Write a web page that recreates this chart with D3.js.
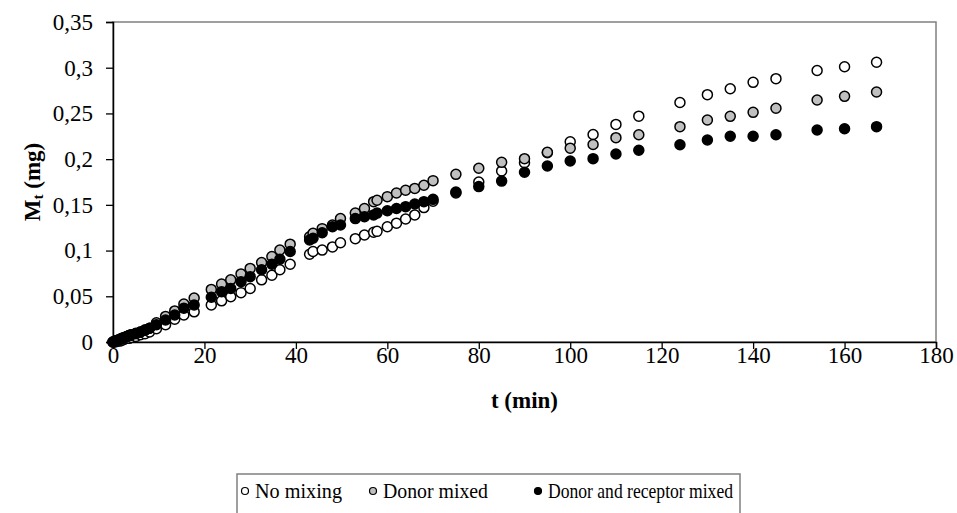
<!DOCTYPE html>
<html>
<head>
<meta charset="utf-8">
<title>Mt vs t</title>
<script src="https://d3js.org/d3.v7.min.js"></script>
<style>
  body { margin: 0; background: #fff; }
  .axis path, .axis line { stroke: #000; }
</style>
</head>
<body>
<svg width="957" height="513"></svg>
<script>
var width = 957, height = 513;
var margin = {top: 22, right: 21, bottom: 171, left: 113};
var serif = "'Liberation Serif', 'DejaVu Serif', serif";

// time points (min)
var times = [0, 0.5, 1, 1.5, 2, 2.5, 3, 3.5, 4, 5, 6, 7, 8, 9.5, 11.5, 13.5, 15.5, 17.75,
  21.5, 23.75, 25.75, 28, 30, 32.5, 34.75, 36.5, 38.75,
  43, 43.75, 45.75, 48, 49.75, 53, 55, 57, 57.75, 60, 62, 64, 66, 68, 70,
  75, 80, 85, 90, 95, 100, 105, 110, 115, 124, 130, 135, 140, 145, 154, 160, 167];

var noMixing = [0, 0, 0.001, 0.001, 0.002, 0.003, 0.004, 0.004, 0.005, 0.006, 0.008, 0.009, 0.011, 0.0145, 0.019, 0.025, 0.0295, 0.033,
  0.0405, 0.045, 0.0495, 0.054, 0.0585, 0.068, 0.073, 0.079, 0.085,
  0.096, 0.099, 0.1005, 0.104, 0.1085, 0.113, 0.117, 0.12, 0.121, 0.126, 0.13, 0.1345, 0.139, 0.147, 0.154,
  0.163, 0.175, 0.187, 0.196, 0.207, 0.219, 0.227, 0.238, 0.247, 0.262, 0.2705, 0.277, 0.284, 0.288, 0.297, 0.301, 0.306];

var donorMixed = [0, 0.001, 0.002, 0.003, 0.004, 0.005, 0.006, 0.007, 0.008, 0.0095, 0.011, 0.013, 0.015, 0.021, 0.028, 0.034, 0.0415, 0.048,
  0.0575, 0.0635, 0.068, 0.0745, 0.0805, 0.087, 0.0935, 0.1005, 0.107,
  0.115, 0.119, 0.124, 0.128, 0.135, 0.141, 0.146, 0.1535, 0.155, 0.159, 0.163, 0.166, 0.168, 0.1715, 0.1765,
  0.1834, 0.19, 0.1965, 0.2005, 0.2075, 0.212, 0.216, 0.2235, 0.2267, 0.2355, 0.2428, 0.2468, 0.2512, 0.2556, 0.2647, 0.2687, 0.2734];

var bothMixed = [0, 0.001, 0.002, 0.003, 0.004, 0.005, 0.006, 0.007, 0.008, 0.009, 0.011, 0.013, 0.015, 0.019, 0.024, 0.0295, 0.037, 0.0405,
  0.049, 0.055, 0.0585, 0.066, 0.0715, 0.079, 0.085, 0.0905, 0.099,
  0.1115, 0.1135, 0.1195, 0.126, 0.128, 0.135, 0.137, 0.139, 0.141, 0.1435, 0.146, 0.148, 0.151, 0.1535, 0.156,
  0.164, 0.17, 0.176, 0.1856, 0.1925, 0.198, 0.2005, 0.2056, 0.2097, 0.2158, 0.221, 0.225, 0.225, 0.2267, 0.2319, 0.2333, 0.2355];

var seriesNames = ["No mixing", "Donor mixed", "Donor and receptor mixed"];
var seriesFill = ["#ffffff", "#c0c0c0", "#000000"];
var xTicks = [0, 20, 40, 60, 80, 100, 120, 140, 160, 180];
var yTicks = [0, 0.05, 0.1, 0.15, 0.2, 0.25, 0.3, 0.35];

var series = [noMixing, donorMixed, bothMixed].map(function(vals, i) {
  return {name: seriesNames[i], fill: seriesFill[i],
    points: vals.map(function(v, j) { return {t: times[j], m: v}; })};
});

var svg = d3.select("svg");
var x = d3.scaleLinear().domain([0, 180]).range([margin.left, width - margin.right]);
var y = d3.scaleLinear().domain([0, 0.35]).range([height - margin.bottom, margin.top]);
var fmt = function(d) { return String(d).replace(".", ","); };

// plot frame (gray top/right)
svg.append("rect")
  .attr("x", x(0)).attr("y", y(0.35))
  .attr("width", x(180) - x(0)).attr("height", y(0) - y(0.35))
  .attr("fill", "none").attr("stroke", "#808080").attr("stroke-width", 1.5);

var gx = svg.append("g").attr("class", "axis")
  .attr("transform", "translate(0," + y(0) + ")")
  .call(d3.axisBottom(x).tickValues(xTicks).tickSize(7).tickPadding(-2).tickFormat(fmt));
var gy = svg.append("g").attr("class", "axis")
  .attr("transform", "translate(" + x(0) + ",0)")
  .call(d3.axisLeft(y).tickValues(yTicks).tickSize(7).tickPadding(13).tickFormat(fmt));
svg.selectAll(".axis text")
  .style("font-family", serif).style("font-size", "23px").attr("fill", "#000");
gx.select(".domain").attr("stroke-width", 1.5).attr("stroke", "#222");
gy.select(".domain").attr("stroke-width", 1.5).attr("stroke", "#222");
gx.selectAll(".tick line").attr("stroke", "#555").attr("stroke-width", 1.3);
gy.selectAll(".tick line").attr("stroke", "#555").attr("stroke-width", 1.3);

// axis titles
svg.append("text")
  .attr("x", (x(0) + x(180)) / 2).attr("y", 408)
  .attr("text-anchor", "middle")
  .style("font-family", serif)
  .attr("font-size", 23).attr("font-weight", "bold")
  .text("t (min)");

var yt = svg.append("text")
  .attr("transform", "translate(40," + ((y(0) + y(0.35)) / 2) + ") rotate(-90)")
  .attr("text-anchor", "middle")
  .style("font-family", serif)
  .attr("font-size", 23).attr("font-weight", "bold");
yt.append("tspan").text("M");
yt.append("tspan").attr("font-size", 15).attr("dy", 3).text("t");
yt.append("tspan").attr("dy", -3).text(" (mg)");

// markers
series.forEach(function(s) {
  svg.append("g")
    .selectAll("circle")
    .data(s.points)
    .enter()
    .append("circle")
    .attr("cx", function(d) { return x(d.t); })
    .attr("cy", function(d) { return y(d.m); })
    .attr("r", 5)
    .attr("fill", s.fill)
    .attr("stroke", "#000")
    .attr("stroke-width", 1.5);
});

// legend
var legend = svg.append("g");
legend.append("rect")
  .attr("x", 237).attr("y", 474).attr("width", 503).attr("height", 50)
  .attr("fill", "#fff").attr("stroke", "#808080").attr("stroke-width", 1.5);
var legendX = [245, 373, 538];
var legendW = [87, 105, 185];
series.forEach(function(s, i) {
  legend.append("circle")
    .attr("cx", legendX[i]).attr("cy", 491).attr("r", 3.5)
    .attr("fill", s.fill).attr("stroke", "#000").attr("stroke-width", 1.2);
  legend.append("text")
    .attr("x", legendX[i] + 10).attr("y", 498)
    .style("font-family", serif)
    .attr("font-size", 21)
    .attr("textLength", legendW[i])
    .attr("lengthAdjust", "spacingAndGlyphs")
    .text(s.name);
});
</script>
</body>
</html>
